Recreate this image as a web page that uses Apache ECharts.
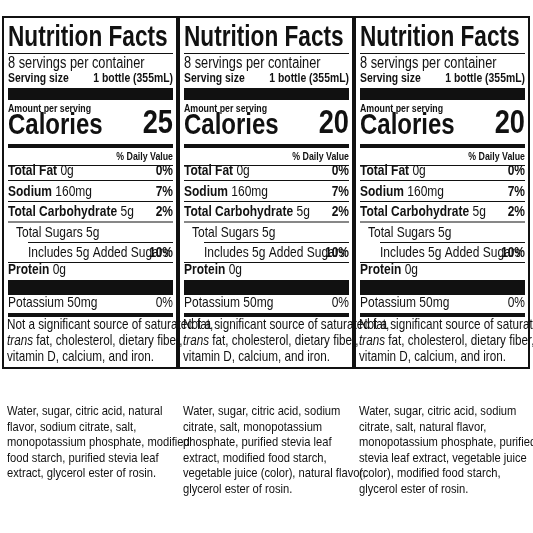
<!DOCTYPE html><html><head><meta charset="utf-8">
<script src="https://cdn.jsdelivr.net/npm/echarts@6/dist/echarts.min.js"></script>
<style>html,body{margin:0;background:#fff}#c{width:533px;height:533px}</style></head><body><div id="c"></div>
<script>
const panelX = [3, 179, 355];
const calories = [25, 20, 20];
const servings = "8 servings per container";
const servingSize = "1 bottle (355mL)";
const rows = [
  {b:"Total Fat", v:" 0g", dv:"0%", ind:0},
  {b:"Sodium", v:" 160mg", dv:"7%", ind:0},
  {b:"Total Carbohydrate", v:" 5g", dv:"2%", ind:0},
  {b:"", v:"Total Sugars 5g", dv:"", ind:1},
  {b:"", v:"Includes 5g Added Sugars", dv:"10%", ind:2},
  {b:"Protein", v:" 0g", dv:"", ind:0}
];
const footnote = ["Not a significant source of saturated fat,", "{i|trans} fat, cholesterol, dietary fiber,", "vitamin D, calcium, and iron."];
const ingredients = [
  ["Water, sugar, citric acid, natural","flavor, sodium citrate, salt,","monopotassium phosphate, modified","food starch, purified stevia leaf","extract, glycerol ester of rosin."],
  ["Water, sugar, citric acid, sodium","citrate, salt, monopotassium","phosphate, purified stevia leaf","extract, modified food starch,","vegetable juice (color), natural flavor,","glycerol ester of rosin."],
  ["Water, sugar, citric acid, sodium","citrate, salt, natural flavor,","monopotassium phosphate, purified","stevia leaf extract, vegetable juice","(color), modified food starch,","glycerol ester of rosin."]
];
const F = "'Liberation Sans',Arial,sans-serif";
const W = 174, L = 5, R = W - 4;
const g = [];
function rect(x,y,w,h){g.push({type:'rect',shape:{x,y,width:w,height:h},style:{fill:'#111'}});}
function txt(x,y,t,o,sx){g.push({type:'text',x,y,scaleX:sx||0.8,style:Object.assign({text:t,font:'13px '+F,fill:'#111',textVerticalAlign:'bottom'},o||{})});}
panelX.forEach((px,p)=>{
  g.push({type:'rect',shape:{x:px,y:17,width:W,height:351},style:{fill:'none',stroke:'#111',lineWidth:2}});
  const x0=px+L, x1=px+R;
  txt(x0,52,'Nutrition Facts',{font:'bold 29px '+F},0.78);
  rect(x0,53,R-L,1);
  txt(x0,72,servings,{font:'16px '+F});
  txt(x0,85,'Serving size',{font:'bold 13px '+F});
  txt(x1,85,servingSize,{font:'bold 13px '+F,align:'right'});
  rect(x0,88,R-L,12);
  txt(x0,114,'Amount per serving',{font:'bold 11px '+F});
  txt(x0,141,'Calories',{font:'bold 30px '+F});
  txt(x1,141,String(calories[p]),{font:'bold 34px '+F,align:'right'});
  rect(x0,144,R-L,4);
  txt(x1,162,'% Daily Value',{font:'bold 11px '+F,align:'right'});
  rect(x0,165,R-L,1);
  const ys=[178,199,219.5,240,260,277];
  rows.forEach((r,i)=>{
    const y=ys[i];
    const xi = x0 + (r.ind===1?8:r.ind===2?20:0);
    const ti = r.b ? '{b|'+r.b+'}{n|'+r.v+'}' : '{n|'+r.v+'}';
    txt(xi,y,ti,{rich:{b:{font:'bold 15px '+F,fill:'#111'},n:{font:'15px '+F,fill:'#111'}}});
    if(r.dv) txt(x1,y,r.dv,{font:'bold 15px '+F,align:'right'});
    if(i<rows.length-1){const lx = i===3 ? x0+20 : x0; rect(lx,y+2,x1-lx,1);}
  });
  rect(x0,280,R-L,15);
  txt(x0,310,'Potassium 50mg',{font:'15px '+F});
  txt(x1,310,'0%',{font:'15px '+F,align:'right'});
  rect(x0,313,R-L,4);
  footnote.forEach((t,i)=>txt(x0-1,332+i*16,t,{font:'15px '+F,rich:{i:{font:'italic 15px '+F,fill:'#111'}}},0.78));
  ingredients[p].forEach((t,i)=>txt(px+4,418+i*15.5,t,{font:'13px '+F},0.86));
});
const ch=echarts.init(document.getElementById('c'));
ch.setOption({animation:false,graphic:{elements:g}});
</script></body></html>
